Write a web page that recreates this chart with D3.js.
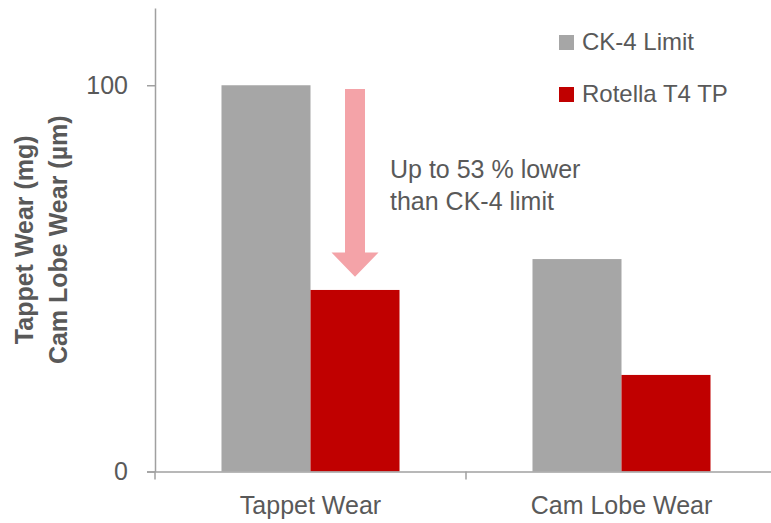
<!DOCTYPE html>
<html>
<head>
<meta charset="utf-8">
<script src="https://cdn.jsdelivr.net/npm/d3@7"></script>
<style>
  html, body { margin: 0; padding: 0; background: #fff; }
  svg { display: block; }
  text { font-family: "Liberation Sans", Arial, sans-serif; fill: #595959; }
</style>
</head>
<body>
<svg id="chart" width="771" height="523"></svg>
<script>
// ---- data ----
const categories = ["Tappet Wear", "Cam Lobe Wear"];
const seriesNames = ["CK-4 Limit", "Rotella T4 TP"];
const ck4Values = [100, 55];
const rotellaValues = [47, 25];
const yTickValues = [0, 100];
const yTitleLines = ["Tappet Wear (mg)", "Cam Lobe Wear (µm)"];
const annotationLines = ["Up to 53 % lower", "than CK-4 limit"];

const colors = { "CK-4 Limit": "#A6A6A6", "Rotella T4 TP": "#C00000" };
const axisColor = "#A0A0A0";

const rows = categories.map((c, i) => ({ cat: c, "CK-4 Limit": ck4Values[i], "Rotella T4 TP": rotellaValues[i] }));

const svg = d3.select("#chart");

const x0 = d3.scaleBand().domain(categories).range([155, 777]).paddingInner(0).paddingOuter(0);
const x1 = d3.scaleBand().domain(seriesNames).range([0, x0.bandwidth()]).paddingInner(0).paddingOuter(0.747);
const y = d3.scaleLinear().domain([0, 120]).range([471.5, 8]);

// bars
const g = svg.append("g");
g.selectAll("g.cat").data(rows).join("g")
  .attr("class", "cat")
  .attr("transform", d => `translate(${x0(d.cat)},0)`)
  .selectAll("rect").data(d => seriesNames.map(s => ({ s, v: d[s] }))).join("rect")
  .attr("x", d => x1(d.s))
  .attr("y", d => y(d.v))
  .attr("width", x1.bandwidth())
  .attr("height", d => y(0) - y(d.v))
  .attr("fill", d => colors[d.s]);

// y axis
const yAxis = d3.axisLeft(y).tickValues(yTickValues).tickSize(8).tickSizeOuter(0).tickPadding(19);
const ya = svg.append("g").attr("transform", "translate(155,0)").call(yAxis);
ya.select(".domain").attr("stroke", axisColor).attr("stroke-width", 1.5);
ya.selectAll(".tick line").attr("stroke", axisColor).attr("stroke-width", 1.5);
ya.selectAll(".tick text").attr("font-size", 25).attr("fill", "#595959")
  .attr("font-family", "Liberation Sans, Arial, sans-serif");

// x axis
const xa = svg.append("g");
xa.append("line").attr("x1", 147).attr("x2", 771).attr("y1", y(0) + 0.5).attr("y2", y(0) + 0.5)
  .attr("stroke", axisColor).attr("stroke-width", 1.5);
const boundaries = categories.map(c => x0(c)).concat([x0.range()[1]]);
xa.selectAll("line.xt").data(boundaries).join("line").attr("class", "xt")
  .attr("x1", d => d).attr("x2", d => d).attr("y1", y(0)).attr("y2", y(0) + 8)
  .attr("stroke", axisColor).attr("stroke-width", 1.5);
xa.selectAll("text.xl").data(categories).join("text").attr("class", "xl")
  .attr("x", d => x0(d) + x0.bandwidth() / 2).attr("y", 514)
  .attr("text-anchor", "middle").attr("font-size", 25).text(d => d);

// y title
const yt = svg.append("text").attr("transform", `translate(33,${(y(0) + y(120)) / 2}) rotate(-90)`)
  .attr("text-anchor", "middle").attr("font-size", 25).attr("font-weight", "bold");
yTitleLines.forEach((t, i) => yt.append("tspan").attr("x", 0).attr("y", i * 34).text(t));

// legend
const lg = svg.append("g").attr("transform", "translate(559,35)");
seriesNames.forEach((s, i) => {
  lg.append("rect").attr("x", 0).attr("y", i * 52).attr("width", 15).attr("height", 15).attr("fill", colors[s]);
  lg.append("text").attr("x", 23).attr("y", i * 52 + 15).attr("font-size", 24).text(s);
});

// annotation arrow over the Rotella tappet bar
const ax = x0(categories[0]) + x1(seriesNames[1]) + x1.bandwidth() / 2;
const aTop = y(99), aHeadStart = y(56.7), aTip = y(50.4);
const arrow = d3.path();
arrow.moveTo(ax - 10, aTop);
arrow.lineTo(ax + 10, aTop);
arrow.lineTo(ax + 10, aHeadStart);
arrow.lineTo(ax + 23.5, aHeadStart);
arrow.lineTo(ax, aTip);
arrow.lineTo(ax - 23.5, aHeadStart);
arrow.lineTo(ax - 10, aHeadStart);
arrow.closePath();
svg.append("path").attr("d", arrow.toString()).attr("fill", "#F4A3A8");

const at = svg.append("text").attr("font-size", 25);
annotationLines.forEach((t, i) => at.append("tspan").attr("x", 390).attr("y", 178 + i * 32).text(t));
</script>
</body>
</html>
